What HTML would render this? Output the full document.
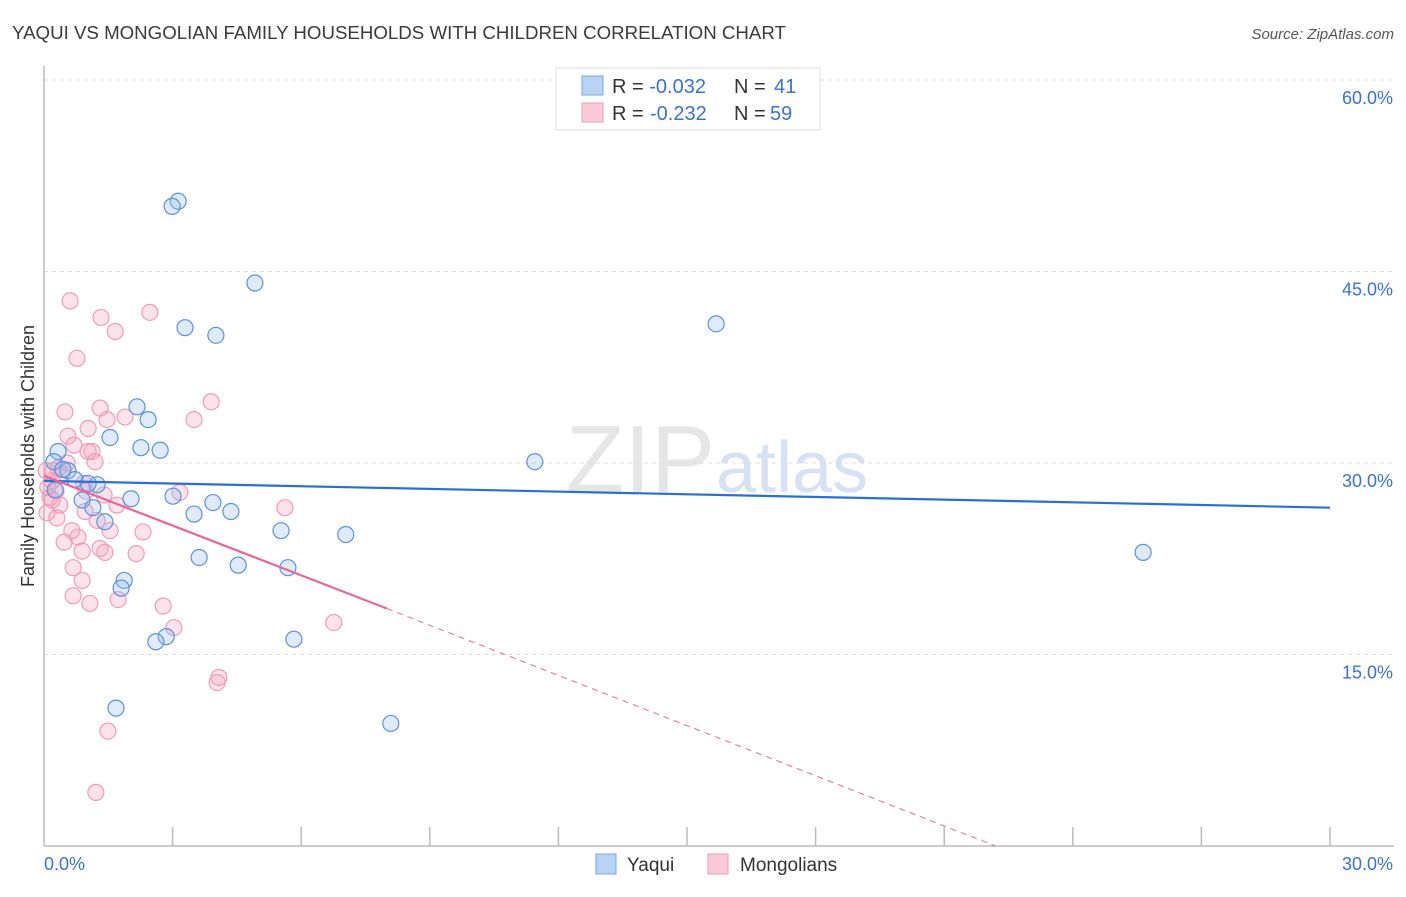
<!DOCTYPE html>
<html><head><meta charset="utf-8"><style>
body{margin:0;background:#fff;font-family:"Liberation Sans",sans-serif;}
svg text{font-family:"Liberation Sans",sans-serif;}
</style></head><body>
<svg id="chart" width="1406" height="892" viewBox="0 0 1406 892">
<text x="12" y="39" font-size="18.7" fill="#3a3a3a">YAQUI VS MONGOLIAN FAMILY HOUSEHOLDS WITH CHILDREN CORRELATION CHART</text>
<text x="1394" y="39" font-size="15" fill="#555" font-style="italic" text-anchor="end">Source: ZipAtlas.com</text>
<text x="715" y="492" font-size="96" fill="#e6e6e6" text-anchor="end" font-family="Liberation Serif">ZIP</text>
<text x="716" y="492" font-size="72" fill="#d6e2f3">atlas</text>
<g id="grid"></g>
<g id="axes"></g>
<g id="marks"></g>
<g id="trends"></g>
<text x="34" y="456" font-size="18" fill="#333" text-anchor="middle" transform="rotate(-90 34 456)">Family Households with Children</text>
<g>
<rect x="556" y="68" width="264" height="62" fill="#fff" stroke="#ddd"/>
<rect x="582" y="76" width="21" height="19" fill="#b9d3f5" stroke="#7aa6e4"/>
<rect x="582" y="103" width="21" height="19" fill="#fbcad8" stroke="#ee9db6"/>
<text x="612" y="93" font-size="20" fill="#333">R = <tspan fill="#3a72d0">-0.032</tspan><tspan x="734">N = </tspan><tspan x="774" fill="#3a72d0">41</tspan></text>
<text x="612" y="120" font-size="20" fill="#333">R = <tspan x="650" fill="#3a72d0">-0.232</tspan><tspan x="734">N = </tspan><tspan x="770" fill="#3a72d0">59</tspan></text>
</g>
<g>
<rect x="596" y="854" width="20" height="20" fill="#b9d3f5" stroke="#7aa6e4"/>
<text x="627" y="871" font-size="19" fill="#333">Yaqui</text>
<rect x="708" y="854" width="20" height="20" fill="#fbcad8" stroke="#ee9db6"/>
<text x="740" y="871" font-size="19" fill="#333">Mongolians</text>
</g>
</svg>
<script>
const yTicks=[15,30,45,60];
const yTickLabels=["15.0%","30.0%","45.0%","60.0%"];
const xTicks=[0,3,6,9,12,15,18,21,24,27,30];
const yaquiX=[3.13,2.99,4.92,3.29,4.01,15.68,2.17,2.43,1.54,2.26,2.71,11.45,0.33,0.23,0.56,0.44,0.72,1.24,1.03,0.89,1.14,1.42,2.03,3.01,3.94,3.50,4.36,5.53,7.04,3.62,4.53,5.69,1.87,1.80,2.85,2.61,5.83,1.68,8.09,25.64,0.26];
const yaquiY=[50.5,50.1,44.1,40.6,40.0,40.9,34.4,33.4,32.0,31.2,31.0,30.1,30.9,30.1,29.4,29.5,28.7,28.3,28.4,27.1,26.5,25.4,27.2,27.4,26.9,26.0,26.2,24.7,24.4,22.6,22.0,21.8,20.8,20.2,16.4,16.0,16.2,10.8,9.6,23.0,27.9];
const mongX=[0.61,1.33,2.47,1.66,0.77,3.90,1.31,0.49,1.89,1.47,3.50,0.56,1.03,0.70,1.12,1.19,0.33,0.21,0.42,0.19,0.09,0.28,0.93,0.98,1.40,1.70,3.17,5.62,0.14,0.37,0.07,0.30,1.24,0.96,1.54,2.31,0.65,0.47,0.79,1.31,0.89,1.42,2.15,0.68,0.89,0.68,1.07,1.73,2.78,3.03,6.76,4.04,4.08,1.49,1.21,1.03,0.54,0.19,0.05];
const mongY=[42.7,41.4,41.8,40.3,38.2,34.8,34.3,34.0,33.6,33.4,33.4,32.1,32.7,31.4,30.9,30.1,29.6,29.4,29.1,28.6,28.1,27.8,28.4,27.8,27.5,26.7,27.7,26.5,27.3,26.7,26.1,25.7,25.5,26.2,24.7,24.6,24.7,23.8,24.2,23.3,23.1,23.0,22.9,21.8,20.8,19.6,19.0,19.3,18.8,17.1,17.5,12.8,13.2,9.0,4.2,30.9,30.0,27.1,29.4];
const yaquiTrend=[28.6,26.5];
const mongTrend=[29.0,18.6,0];
const mongTrendX=[0,8.0,22.2];

const NS="http://www.w3.org/2000/svg";
const X=v=>44+v*(1286/30);
const Y=v=>846-v*(766/60);
function mk(tag,attrs,parent){const e=document.createElementNS(NS,tag);for(const k in attrs)e.setAttribute(k,attrs[k]);document.getElementById(parent).appendChild(e);return e;}
yTicks.forEach((t,i)=>{
  const g=mk('line',{x1:44,x2:1394,y1:Y(t),y2:Y(t),stroke:'#ddd','stroke-dasharray':'4,4'},'grid');
  
  
  const l=mk('text',{x:1393,y:Y(t)+24,'font-size':18,fill:'#3a72d0','text-anchor':'end'},'axes');
  l.textContent=yTickLabels[i];
  
  
});
const ax=mk('line',{x1:44,x2:1394,y1:846,y2:846,stroke:'#bbb','stroke-width':1.5},'axes');


const ay=mk('line',{x1:44,x2:44,y1:66,y2:846,stroke:'#bbb','stroke-width':1.5},'axes');


xTicks.slice(1).forEach(t=>{
  const k=mk('line',{x1:X(t),x2:X(t),y1:827,y2:846,stroke:'#bbb','stroke-width':1.5},'axes');
  
  
});
const x0=mk('text',{x:44,y:870,'font-size':18,fill:'#3a72d0'},'axes');x0.textContent='0.0%';


const x1=mk('text',{x:1393,y:870,'font-size':18,fill:'#3a72d0','text-anchor':'end'},'axes');x1.textContent='30.0%';


mongX.forEach((v,i)=>{
  const c=mk('circle',{cx:X(v),cy:Y(mongY[i]),r:8,fill:'rgba(246,160,190,0.3)',stroke:'#ee9db6','stroke-width':1.2},'marks');
  
  
});
yaquiX.forEach((v,i)=>{
  const c=mk('circle',{cx:X(v),cy:Y(yaquiY[i]),r:8,fill:'rgba(150,190,240,0.3)',stroke:'#5d90dc','stroke-width':1.2},'marks');
  
  
});
const bt=mk('line',{x1:X(0),y1:Y(yaquiTrend[0]),x2:X(30),y2:Y(yaquiTrend[1]),stroke:'#2a6fd6','stroke-width':2.2},'trends');


const pt=mk('line',{x1:X(mongTrendX[0]),y1:Y(mongTrend[0]),x2:X(mongTrendX[1]),y2:Y(mongTrend[1]),stroke:'#e5679a','stroke-width':2.2},'trends');


const pd=mk('line',{x1:X(mongTrendX[1]),y1:Y(mongTrend[1]),x2:X(mongTrendX[2]),y2:Y(mongTrend[2]),stroke:'#e5679a','stroke-width':1,'stroke-dasharray':'6,5'},'trends');


</script>
</body></html>
